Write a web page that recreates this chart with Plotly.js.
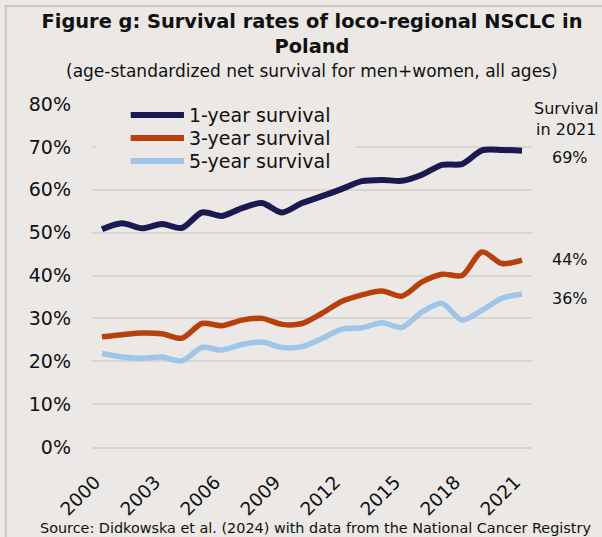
<!DOCTYPE html>
<html>
<head>
<meta charset="utf-8">
<script src="https://cdn.plot.ly/plotly-3.0.1.min.js"></script>
<style>
  html, body { margin: 0; padding: 0; background: #ebe8e5; }
  #chart { width: 602px; height: 537px; }
</style>
</head>
<body>
<div id="chart"></div>
<script>
const years = [2000, 2001, 2002, 2003, 2004, 2005, 2006, 2007, 2008, 2009, 2010,
               2011, 2012, 2013, 2014, 2015, 2016, 2017, 2018, 2019, 2020, 2021];
const oneYear   = [50.8, 52.2, 51.0, 52.0, 51.1, 54.7, 53.9, 55.7, 56.9, 54.7, 56.9,
                   58.5, 60.2, 62.0, 62.3, 62.1, 63.5, 65.8, 66.0, 69.2, 69.3, 69.1];
const threeYear = [25.7, 26.2, 26.6, 26.4, 25.4, 28.8, 28.3, 29.6, 30.0, 28.6, 28.8,
                   31.2, 34.0, 35.5, 36.4, 35.2, 38.5, 40.3, 40.0, 45.5, 42.8, 43.6];
const fiveYear  = [21.8, 21.0, 20.7, 21.0, 20.1, 23.2, 22.6, 23.9, 24.5, 23.2, 23.4,
                   25.3, 27.5, 27.8, 29.0, 27.9, 31.5, 33.5, 29.6, 31.9, 34.7, 35.7];
const seriesNames = ['1-year survival', '3-year survival', '5-year survival'];
const seriesColors = ['#1b1a50', '#b8400d', '#9fc5e8'];
const xLabelYears = [2000, 2003, 2006, 2009, 2012, 2015, 2018, 2021];
const yTicks = [0, 10, 20, 30, 40, 50, 60, 70, 80];

const FONT = 'DejaVu Sans, Verdana, sans-serif';
const BG = '#ebe8e5';
const GRID = '#d8d6d4';

const seriesData = [oneYear, threeYear, fiveYear];
const traces = seriesData.map((vals, i) => ({
  x: years,
  y: vals,
  type: 'scatter',
  mode: 'lines',
  name: seriesNames[i],
  showlegend: false,
  line: { color: seriesColors[i], width: i === 0 ? 6 : 5.5, shape: 'spline', smoothing: 0.8 },
  hoverinfo: 'skip'
}));

const boundaryTicks = xLabelYears.map(y => y - 0.5);

// Legend drawn as key lines + labels (paper coordinates)
const legendRowsY = [0.968, 0.901, 0.834];
const legendShapes = seriesNames.map((n, i) => ({
  type: 'line', xref: 'paper', yref: 'paper',
  x0: 0.088, x1: 0.209, y0: legendRowsY[i], y1: legendRowsY[i],
  line: { color: seriesColors[i], width: 6 }
}));
const legendTexts = seriesNames.map((n, i) => ({
  text: n,
  xref: 'paper', yref: 'paper', x: 0.216, y: legendRowsY[i],
  xanchor: 'left', yanchor: 'middle', showarrow: false,
  font: { family: FONT, size: 19, color: '#111' }
}));

const lastLabels = [
  { v: oneYear[oneYear.length - 1], y: 0.845 },
  { v: threeYear[threeYear.length - 1], y: 0.548 },
  { v: fiveYear[fiveYear.length - 1], y: 0.434 }
].map(o => ({
  text: Math.round(o.v) + '%',
  xref: 'paper', yref: 'paper', x: 1.087, y: o.y,
  xanchor: 'center', yanchor: 'middle', showarrow: false,
  font: { family: FONT, size: 16, color: '#111' }
}));

const layout = {
  width: 602, height: 537,
  paper_bgcolor: BG, plot_bgcolor: BG,
  margin: { l: 92, r: 70, t: 104, b: 90 },
  showlegend: false,
  title: {
    text: 'Figure g: Survival rates of loco-regional NSCLC in<br>Poland',
    font: { family: FONT, size: 19.4, color: '#111', weight: 'bold' },
    x: 0.5, xref: 'paper', xanchor: 'center',
    y: 1 - 28 / 537, yref: 'container', yanchor: 'top'
  },
  xaxis: {
    range: [1999.5, 2021.5],
    tickvals: xLabelYears,
    ticktext: xLabelYears.map(String),
    tickangle: -45,
    ticks: '',
    ticklabelstandoff: 15,
    ticklabelshift: -7,
    showgrid: false,
    zeroline: false,
    showline: true, linecolor: GRID, linewidth: 2,
    tickfont: { family: FONT, size: 18.5, color: '#111' },
    fixedrange: true
  },
  xaxis2: {
    overlaying: 'x', anchor: 'y',
    range: [1999.5, 2021.5],
    tickvals: boundaryTicks,
    showticklabels: false,
    ticks: 'outside', ticklen: 7, tickwidth: 2, tickcolor: GRID,
    showgrid: false, zeroline: false, showline: false,
    fixedrange: true
  },
  yaxis: {
    range: [0, 80],
    tickvals: yTicks,
    ticktext: yTicks.map(v => v + '%'),
    showgrid: true, gridcolor: GRID, gridwidth: 2,
    zeroline: false, showline: false,
    ticks: '', ticklabelstandoff: 20,
    tickfont: { family: FONT, size: 19, color: '#111' },
    fixedrange: true
  },
  annotations: [
    {
      text: '(age-standardized net survival for men+women, all ages)',
      xref: 'paper', yref: 'paper', x: 0.5, y: 1.096,
      xanchor: 'center', yanchor: 'middle', showarrow: false,
      font: { family: FONT, size: 17, color: '#111' }
    },
    {
      text: 'Survival<br>in 2021',
      xref: 'paper', yref: 'paper', x: 1.0795, y: 0.956,
      xanchor: 'center', yanchor: 'middle', showarrow: false,
      font: { family: FONT, size: 16, color: '#111' }
    },
    ...lastLabels,
    ...legendTexts,
    {
      text: 'Source: Didkowska et al. (2024) with data from the National Cancer Registry',
      xref: 'paper', yref: 'paper', x: 0.507, y: -0.236,
      xanchor: 'center', yanchor: 'middle', showarrow: false,
      font: { family: FONT, size: 14.4, color: '#111' }
    }
  ],
  shapes: [
    {
      type: 'path', xref: 'paper', yref: 'paper',
      path: 'M -0.196,-0.4 L -0.196,1.286 L 1.3,1.286',
      line: { color: '#c9c7c5', width: 2 }
    },
    {
      type: 'rect', xref: 'paper', yref: 'paper',
      x0: 0.009, x1: 0.598, y0: 0.802, y1: 1.012,
      fillcolor: BG, line: { width: 0 }
    },
    ...legendShapes
  ]
};

Plotly.newPlot('chart', traces, layout, { displayModeBar: false, staticPlot: true });
</script>
</body>
</html>
